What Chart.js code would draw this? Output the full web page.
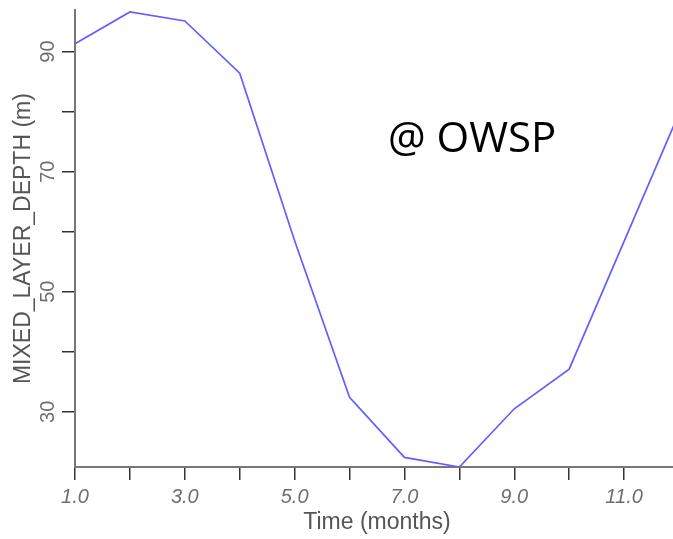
<!DOCTYPE html>
<html>
<head>
<meta charset="utf-8">
<script src="https://cdn.jsdelivr.net/npm/chart.js@4.4.1/dist/chart.umd.min.js"></script>
<style>
  html, body { margin: 0; padding: 0; background: #fff; overflow: hidden; }
  #wrap { position: relative; width: 700px; height: 539px; }
</style>
</head>
<body>
<div id="wrap"><canvas id="chart"></canvas></div>
<script>
// monthly mixed layer depth at OWSP
const months = [1, 2, 3, 4, 5, 6, 7, 8, 9, 10, 11, 12];
const depth = [91.3, 96.6, 95.1, 86.4, 58.5, 32.4, 22.4, 20.8, 30.5, 37.1, 58.4, 79.7];
const xLabels = [1, 3, 5, 7, 9, 11];
const yLabels = [30, 50, 70, 90];
const note = '@ OWSP';

const axisGray = '#6e6e6e';

// y tick labels are drawn rotated, the way the original plot has them
const rotatedYLabels = {
  id: 'rotatedYLabels',
  afterDraw(chart) {
    const ctx = chart.ctx;
    const y = chart.scales.y;
    ctx.save();
    ctx.fillStyle = axisGray;
    ctx.font = '20px "Liberation Sans", Arial, sans-serif';
    ctx.textAlign = 'center';
    ctx.textBaseline = 'middle';
    yLabels.forEach((v) => {
      ctx.save();
      ctx.translate(y.right - 27, y.getPixelForValue(v));
      ctx.rotate(-Math.PI / 2);
      ctx.fillText(String(v), 0, 0);
      ctx.restore();
    });
    // station note
    ctx.fillStyle = '#000';
    ctx.font = '42px "Open Sans", "Noto Sans", sans-serif';
    ctx.textAlign = 'left';
    ctx.textBaseline = 'alphabetic';
    ctx.fillText(note, 388, 152);
    ctx.restore();
  }
};

new Chart(document.getElementById('chart'), {
  type: 'line',
  data: {
    datasets: [{
      data: months.map((m, i) => ({ x: m, y: depth[i] })),
      borderColor: '#6060ff',
      borderWidth: 1.7,
      pointRadius: 0,
      tension: 0,
      fill: false,
    }]
  },
  options: {
    responsive: true,
    maintainAspectRatio: false,
    animation: false,
    layout: { padding: { top: 10, right: 21, left: 0, bottom: 0 } },
    plugins: { legend: { display: false }, tooltip: { enabled: false } },
    scales: {
      x: {
        type: 'linear',
        min: 1,
        max: 12,
        afterFit(scale) { scale.height = 72; },
        border: { display: true, color: '#777', width: 2 },
        grid: { drawOnChartArea: false, drawTicks: true, tickLength: 13, color: '#333', lineWidth: 1.5 },
        ticks: {
          stepSize: 1,
          autoSkip: false,
          maxRotation: 0,
          padding: 5,
          color: axisGray,
          font: { family: '"Liberation Sans", Arial, sans-serif', size: 20, style: 'italic' },
          callback: (v) => (xLabels.includes(v) ? v.toFixed(1) : ''),
        },
        title: {
          display: true,
          text: 'Time (months)',
          color: '#555',
          font: { family: '"Liberation Sans", Arial, sans-serif', size: 23 },
          padding: { top: 0, bottom: 3 },
        },
      },
      y: {
        min: 20.8,
        max: 96.9,
        afterFit(scale) { scale.width = 75; },
        border: { display: true, color: '#777', width: 2 },
        grid: { drawOnChartArea: false, drawTicks: true, tickLength: 13, color: '#333', lineWidth: 1.5 },
        ticks: {
          stepSize: 10,
          autoSkip: false,
          callback: () => '',
        },
        afterBuildTicks(scale) {
          scale.ticks = [30, 40, 50, 60, 70, 80, 90].map((v) => ({ value: v }));
        },
        title: {
          display: true,
          text: 'MIXED_LAYER_DEPTH (m)',
          color: '#555',
          font: { family: '"Liberation Sans", Arial, sans-serif', size: 23 },
          padding: { top: 10, bottom: 0 },
        },
      },
    },
  },
  plugins: [rotatedYLabels],
});
</script>
</body>
</html>
